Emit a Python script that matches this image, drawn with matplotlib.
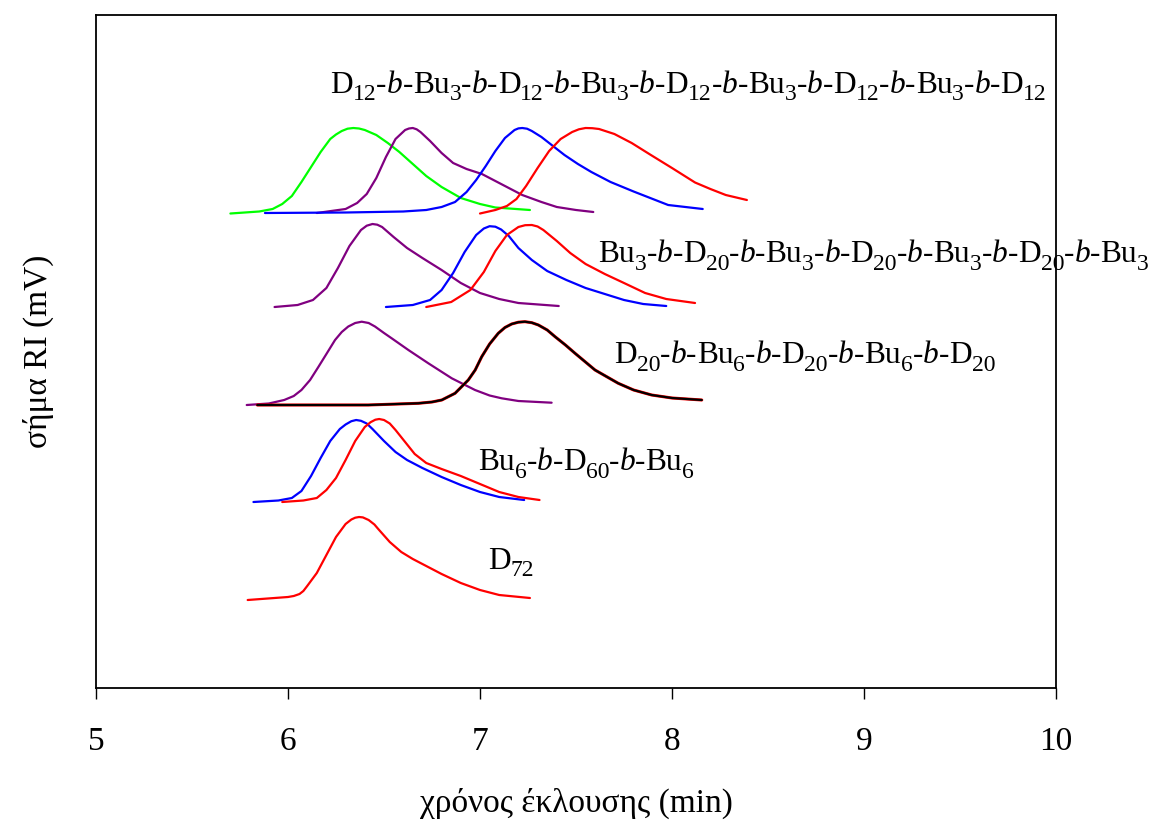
import matplotlib
matplotlib.use("Agg")
import matplotlib.pyplot as plt
from matplotlib.transforms import offset_copy

plt.rcParams['font.family'] = ['Liberation Serif', 'DejaVu Serif']
plt.rcParams['lines.solid_joinstyle'] = 'round'
plt.rcParams['lines.solid_capstyle'] = 'round'

# ---- GPC traces: elution time (min) and stacked RI signal (offset, arb. mV) ----
# D72
d72_t = [5.79, 6.00, 6.03, 6.06, 6.08, 6.10, 6.15, 6.20, 6.25, 6.30, 6.33, 6.35, 6.37,
         6.39, 6.42, 6.45, 6.47, 6.53, 6.59, 6.65, 6.72, 6.80, 6.90, 7.00, 7.10, 7.26]
d72_s = [88, 91, 92, 94, 97, 102, 115, 133, 151, 164, 168.5, 170.3, 171,
         170.6, 168, 163.5, 159, 146, 136, 129, 122, 114, 105, 98, 93, 90]

# Bu6-b-D60-b-Bu6
tri_blue_t = [5.82, 5.95, 6.02, 6.07, 6.12, 6.17, 6.22, 6.27, 6.30, 6.33, 6.355, 6.38,
              6.41, 6.44, 6.50, 6.56, 6.62, 6.70, 6.80, 6.90, 7.00, 7.10, 7.23]
tri_blue_s = [186, 187.5, 190, 197, 212, 230, 247, 259, 263.5, 266.8, 268, 267.2,
              264.5, 259, 247, 236, 228, 220, 211, 203, 196, 191, 188]
tri_red_t = [5.97, 6.08, 6.15, 6.20, 6.25, 6.30, 6.35, 6.40, 6.43, 6.455, 6.475, 6.50,
             6.53, 6.56, 6.61, 6.66, 6.72, 6.80, 6.90, 7.00, 7.10, 7.20, 7.31]
tri_red_s = [186, 187.5, 190, 198, 210, 228, 247, 261, 265.8, 268.3, 269, 268,
             264.5, 258, 246, 234, 225, 219, 212, 204, 196, 191, 188]

# D20-b-Bu6-b-D20-b-Bu6-b-D20
penta_purple_t = [5.785, 5.90, 5.98, 6.03, 6.07, 6.115, 6.158, 6.20, 6.245, 6.28, 6.314,
                  6.35, 6.384, 6.42, 6.453, 6.50, 6.54, 6.627, 6.731, 6.853, 6.974,
                  7.05, 7.113, 7.20, 7.373]
penta_purple_s = [283, 284.5, 288, 292, 298, 308, 321, 334, 348, 356, 361.5,
                  365, 366.3, 365, 361.5, 355, 349.7, 338, 324.7, 309.7, 298,
                  292.5, 289.7, 287, 285.3]
penta_black_t = [5.84, 6.418, 6.679, 6.75, 6.801, 6.87, 6.939, 6.975, 7.009, 7.05, 7.095,
                 7.13, 7.165, 7.20, 7.234, 7.27, 7.304, 7.35, 7.391, 7.445, 7.495,
                 7.599, 7.72, 7.80, 7.894, 8.00, 8.155]
penta_black_s = [283, 283, 284.7, 286, 288, 294.7, 308, 318, 331.3, 344, 354.7,
                 360.5, 364, 365.8, 366.3, 365.3, 363, 358, 351.3, 343, 334.7,
                 318, 304.7, 298, 293, 290, 288]

# Bu3-b-D20-b-Bu3-b-D20-b-Bu3-b-D20-b-Bu3
hepta_purple_t = [5.93, 6.05, 6.13, 6.20, 6.26, 6.32, 6.38, 6.41, 6.44, 6.465, 6.49,
                  6.55, 6.62, 6.70, 6.80, 6.90, 7.00, 7.10, 7.20, 7.41]
hepta_purple_s = [381, 383, 388, 400, 420, 442, 458, 462.3, 464, 463.3, 461,
                  451, 440, 430, 418, 405, 395, 389, 385, 382]
hepta_blue_t = [6.51, 6.65, 6.74, 6.80, 6.86, 6.92, 6.98, 7.02, 7.05, 7.08, 7.11, 7.15,
                7.20, 7.27, 7.35, 7.45, 7.55, 7.65, 7.75, 7.85, 7.97]
hepta_blue_s = [381, 383, 388, 398, 415, 436, 453, 459.5, 461.8, 461.3, 458.5, 452,
                440, 428, 417, 408, 400, 394, 388, 384, 382]
hepta_red_t = [6.72, 6.85, 6.95, 7.02, 7.08, 7.14, 7.20, 7.235, 7.27, 7.30, 7.33, 7.40,
               7.47, 7.55, 7.65, 7.75, 7.86, 7.97, 8.12]
hepta_red_s = [381, 386, 398, 416, 437, 453, 461, 462.8, 463, 461.5, 458, 447,
               435, 424, 414, 405, 395, 389, 385]

# D12-b-Bu3-...-b-D12 (nonablock)
nona_green_t = [5.70, 5.85, 5.92, 5.97, 6.02, 6.07, 6.12, 6.17, 6.22, 6.25, 6.28, 6.31,
                6.34, 6.37, 6.40, 6.46, 6.52, 6.58, 6.65, 6.72, 6.80, 6.90, 7.00, 7.08,
                7.26]
nona_green_s = [474.5, 476.5, 479, 484, 492, 506, 521, 536, 549, 553.5, 557, 559.3,
                560, 559.5, 558, 553, 545, 536, 524, 512, 501, 490, 484, 480.5,
                478]
nona_purple_t = [6.15, 6.30, 6.36, 6.41, 6.46, 6.51, 6.56, 6.61, 6.63, 6.65, 6.67, 6.69,
                 6.74, 6.80, 6.86, 6.93, 7.01, 7.10, 7.22, 7.32, 7.40, 7.50, 7.59]
nona_purple_s = [475, 479, 485, 494, 510, 531, 549, 558, 559.5, 560, 558.7, 556,
                 547, 535, 525, 519, 514, 505, 493, 486, 481, 478, 476]
nona_blue_t = [5.88, 6.30, 6.60, 6.72, 6.80, 6.87, 6.93, 6.98, 7.03, 7.08, 7.13, 7.18,
               7.20, 7.22, 7.245, 7.27, 7.32, 7.38, 7.44, 7.51, 7.58, 7.68, 7.80, 7.90,
               7.98, 8.16]
nona_blue_s = [475, 475.5, 476.5, 478, 481, 486, 496, 508, 522, 537, 550, 558,
               559.6, 560, 559.3, 557, 551, 542, 533, 524, 516, 506, 496.5, 489,
               483, 479]
nona_red_t = [7.00, 7.08, 7.14, 7.19, 7.24, 7.30, 7.36, 7.42, 7.48, 7.515, 7.55, 7.585,
              7.62, 7.70, 7.79, 7.89, 8.00, 8.12, 8.20, 8.28, 8.39]
nona_red_s = [474.5, 478, 482, 489, 502, 520, 537, 549, 556, 558.7, 560, 559.8,
              559, 554, 545, 533, 520, 505.5, 499, 493, 488]

# Sample labels: (block, subscript) sequences joined by "-b-"
label_nona = [("D", "12"), ("Bu", "3"), ("D", "12"), ("Bu", "3"), ("D", "12"),
              ("Bu", "3"), ("D", "12"), ("Bu", "3"), ("D", "12")]
label_hepta = [("Bu", "3"), ("D", "20"), ("Bu", "3"), ("D", "20"), ("Bu", "3"),
               ("D", "20"), ("Bu", "3")]
label_penta = [("D", "20"), ("Bu", "6"), ("D", "20"), ("Bu", "6"), ("D", "20")]
label_tri = [("Bu", "6"), ("D", "60"), ("Bu", "6")]
label_homo = [("D", "72")]

x_ticks = [5, 6, 7, 8, 9, 10]

fig = plt.figure(figsize=(11.52, 8.23), dpi=100)
ax = fig.add_axes([96 / 1152, 1 - 688 / 823, 960 / 1152, 673 / 823])

lw = 1.6
RED, BLUE, GREEN, PURPLE, BLACK = "#ff0000", "#0000ff", "#00ff00", "#800080", "#000000"

ax.plot(d72_t, d72_s, color=RED, lw=lw)

ax.plot(tri_blue_t, tri_blue_s, color=BLUE, lw=lw)
ax.plot(tri_red_t, tri_red_s, color=RED, lw=lw)

ax.plot(penta_purple_t, penta_purple_s, color=PURPLE, lw=lw)
ax.plot(penta_black_t, penta_black_s, color=RED, lw=lw + 0.6)
ax.plot(penta_black_t, penta_black_s, color=BLACK, lw=lw)

ax.plot(hepta_purple_t, hepta_purple_s, color=PURPLE, lw=lw)
ax.plot(hepta_blue_t, hepta_blue_s, color=BLUE, lw=lw)
ax.plot(hepta_red_t, hepta_red_s, color=RED, lw=lw)

ax.plot(nona_green_t, nona_green_s, color=GREEN, lw=lw)
ax.plot(nona_purple_t, nona_purple_s, color=PURPLE, lw=lw)
ax.plot(nona_blue_t, nona_blue_s, color=BLUE, lw=lw)
ax.plot(nona_red_t, nona_red_s, color=RED, lw=lw)

ax.set_xlim(5, 10)
ax.set_ylim(0, 673)

ax.set_xticks(x_ticks)
ax.set_xticklabels([str(v) for v in x_ticks])
ax.set_yticks([])
ax.tick_params(axis="x", direction="out", length=8, width=1.0, pad=20, labelsize=24)
for sp in ax.spines.values():
    sp.set_linewidth(1.3)

ax.set_xlabel("χρόνος έκλουσης (min)", fontsize=24, labelpad=22)
ax.set_ylabel("σήμα RI (mV)", fontsize=24, labelpad=30)

# Block copolymer labels, typeset piece by piece (upright names, italic b, subscripts)
renderer = fig.canvas.get_renderer()
MAIN_SIZE, SUB_SIZE, SUB_DROP = 22.6, 17.0, -7.5


def draw_block_label(x, y, blocks):
    pieces = []
    for i, (name, sub) in enumerate(blocks):
        if i > 0:
            pieces += [("-", MAIN_SIZE, "normal", 0.0),
                       ("b", MAIN_SIZE, "italic", 0.0),
                       ("-", MAIN_SIZE, "normal", 0.0)]
        pieces += [(name, MAIN_SIZE, "normal", 0.0), (sub, SUB_SIZE, "normal", SUB_DROP)]
    dx = 0.0
    for txt, size, style, dy in pieces:
        tr = offset_copy(ax.transData, fig=fig, x=dx, y=dy, units="dots")
        t = ax.text(x, y, txt, transform=tr, fontsize=size, style=style,
                    ha="left", va="baseline", clip_on=False, zorder=2)
        dx += t.get_window_extent(renderer).width


draw_block_label(6.219, 595, label_nona)
draw_block_label(7.615, 426, label_hepta)
draw_block_label(7.698, 325, label_penta)
draw_block_label(6.990, 218, label_tri)
draw_block_label(7.042, 119, label_homo)

fig.savefig("out.png", dpi=100)
